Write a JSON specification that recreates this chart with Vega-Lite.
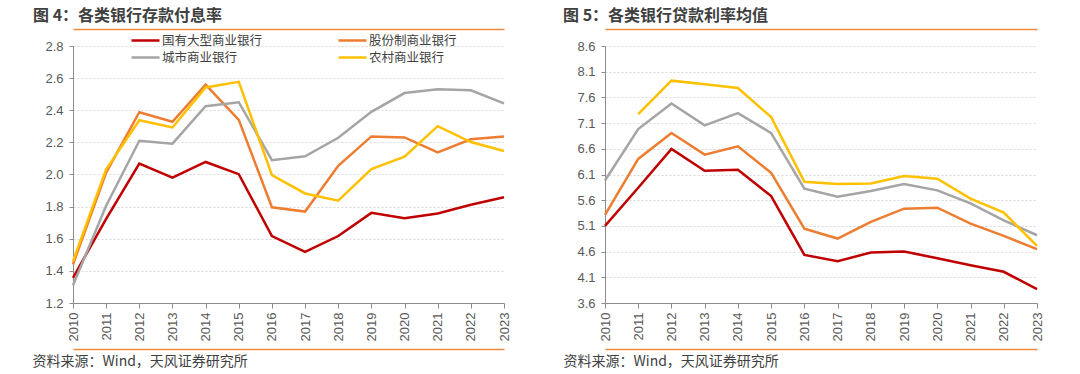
{
  "$schema": "https://vega.github.io/schema/vega-lite/v6.json",
  "padding": {"left": 32, "top": 8, "right": 5, "bottom": 0},
  "spacing": 52,
  "background": "white",
  "config": {
    "view": {"stroke": null},
    "font": "Noto Sans CJK SC",
    "axis": {"labelFont": "Liberation Sans", "labelFontSize": 13, "labelColor": "#595959", "domainColor": "#8c8c8c", "tickColor": "#8c8c8c", "titleFont": "Noto Sans CJK SC"},
    "legend": {
      "orient": "none", "legendY": -16, "columns": 2, "symbolType": "M-1.556,0H1.556", "symbolSize": 324, "symbolStrokeWidth": 2.5,
      "labelFont": "Noto Sans CJK SC", "labelFontSize": 12.5, "labelColor": "#404040", "columnPadding": 70, "rowPadding": 0, "labelOffset": 6, "title": null
    }
  },
  "datasets": {
    "deposit": [
      {"year": 2010, "bank": "国有大型商业银行", "rate": 1.357}, {"year": 2011, "bank": "国有大型商业银行", "rate": 1.724}, {"year": 2012, "bank": "国有大型商业银行", "rate": 2.068}, {"year": 2013, "bank": "国有大型商业银行", "rate": 1.981}, {"year": 2014, "bank": "国有大型商业银行", "rate": 2.078}, {"year": 2015, "bank": "国有大型商业银行", "rate": 2.002}, {"year": 2016, "bank": "国有大型商业银行", "rate": 1.617}, {"year": 2017, "bank": "国有大型商业银行", "rate": 1.518}, {"year": 2018, "bank": "国有大型商业银行", "rate": 1.617}, {"year": 2019, "bank": "国有大型商业银行", "rate": 1.761}, {"year": 2020, "bank": "国有大型商业银行", "rate": 1.728}, {"year": 2021, "bank": "国有大型商业银行", "rate": 1.757}, {"year": 2022, "bank": "国有大型商业银行", "rate": 1.812}, {"year": 2023, "bank": "国有大型商业银行", "rate": 1.858},
      {"year": 2010, "bank": "股份制商业银行", "rate": 1.44}, {"year": 2011, "bank": "股份制商业银行", "rate": 2.012}, {"year": 2012, "bank": "股份制商业银行", "rate": 2.388}, {"year": 2013, "bank": "股份制商业银行", "rate": 2.328}, {"year": 2014, "bank": "股份制商业银行", "rate": 2.559}, {"year": 2015, "bank": "股份制商业银行", "rate": 2.34}, {"year": 2016, "bank": "股份制商业银行", "rate": 1.796}, {"year": 2017, "bank": "股份制商业银行", "rate": 1.769}, {"year": 2018, "bank": "股份制商业银行", "rate": 2.054}, {"year": 2019, "bank": "股份制商业银行", "rate": 2.237}, {"year": 2020, "bank": "股份制商业银行", "rate": 2.231}, {"year": 2021, "bank": "股份制商业银行", "rate": 2.138}, {"year": 2022, "bank": "股份制商业银行", "rate": 2.219}, {"year": 2023, "bank": "股份制商业银行", "rate": 2.237},
      {"year": 2010, "bank": "城市商业银行", "rate": 1.31}, {"year": 2011, "bank": "城市商业银行", "rate": 1.806}, {"year": 2012, "bank": "城市商业银行", "rate": 2.21}, {"year": 2013, "bank": "城市商业银行", "rate": 2.192}, {"year": 2014, "bank": "城市商业银行", "rate": 2.425}, {"year": 2015, "bank": "城市商业银行", "rate": 2.45}, {"year": 2016, "bank": "城市商业银行", "rate": 2.089}, {"year": 2017, "bank": "城市商业银行", "rate": 2.113}, {"year": 2018, "bank": "城市商业银行", "rate": 2.229}, {"year": 2019, "bank": "城市商业银行", "rate": 2.39}, {"year": 2020, "bank": "城市商业银行", "rate": 2.507}, {"year": 2021, "bank": "城市商业银行", "rate": 2.53}, {"year": 2022, "bank": "城市商业银行", "rate": 2.524}, {"year": 2023, "bank": "城市商业银行", "rate": 2.443},
      {"year": 2010, "bank": "农村商业银行", "rate": 1.46}, {"year": 2011, "bank": "农村商业银行", "rate": 2.033}, {"year": 2012, "bank": "农村商业银行", "rate": 2.338}, {"year": 2013, "bank": "农村商业银行", "rate": 2.293}, {"year": 2014, "bank": "农村商业银行", "rate": 2.542}, {"year": 2015, "bank": "农村商业银行", "rate": 2.577}, {"year": 2016, "bank": "农村商业银行", "rate": 1.996}, {"year": 2017, "bank": "农村商业银行", "rate": 1.882}, {"year": 2018, "bank": "农村商业银行", "rate": 1.837}, {"year": 2019, "bank": "农村商业银行", "rate": 2.033}, {"year": 2020, "bank": "农村商业银行", "rate": 2.111}, {"year": 2021, "bank": "农村商业银行", "rate": 2.301}, {"year": 2022, "bank": "农村商业银行", "rate": 2.202}, {"year": 2023, "bank": "农村商业银行", "rate": 2.146}
    ],
    "loan": [
      {"year": 2010, "bank": "国有大型商业银行", "rate": 5.1}, {"year": 2011, "bank": "国有大型商业银行", "rate": 5.842}, {"year": 2012, "bank": "国有大型商业银行", "rate": 6.597}, {"year": 2013, "bank": "国有大型商业银行", "rate": 6.171}, {"year": 2014, "bank": "国有大型商业银行", "rate": 6.19}, {"year": 2015, "bank": "国有大型商业银行", "rate": 5.681}, {"year": 2016, "bank": "国有大型商业银行", "rate": 4.535}, {"year": 2017, "bank": "国有大型商业银行", "rate": 4.414}, {"year": 2018, "bank": "国有大型商业银行", "rate": 4.582}, {"year": 2019, "bank": "国有大型商业银行", "rate": 4.601}, {"year": 2020, "bank": "国有大型商业银行", "rate": 4.472}, {"year": 2021, "bank": "国有大型商业银行", "rate": 4.336}, {"year": 2022, "bank": "国有大型商业银行", "rate": 4.207}, {"year": 2023, "bank": "国有大型商业银行", "rate": 3.87},
      {"year": 2010, "bank": "股份制商业银行", "rate": 5.313}, {"year": 2011, "bank": "股份制商业银行", "rate": 6.403}, {"year": 2012, "bank": "股份制商业银行", "rate": 6.906}, {"year": 2013, "bank": "股份制商业银行", "rate": 6.487}, {"year": 2014, "bank": "股份制商业银行", "rate": 6.648}, {"year": 2015, "bank": "股份制商业银行", "rate": 6.132}, {"year": 2016, "bank": "股份制商业银行", "rate": 5.048}, {"year": 2017, "bank": "股份制商业银行", "rate": 4.854}, {"year": 2018, "bank": "股份制商业银行", "rate": 5.177}, {"year": 2019, "bank": "股份制商业银行", "rate": 5.436}, {"year": 2020, "bank": "股份制商业银行", "rate": 5.455}, {"year": 2021, "bank": "股份制商业银行", "rate": 5.145}, {"year": 2022, "bank": "股份制商业银行", "rate": 4.905}, {"year": 2023, "bank": "股份制商业银行", "rate": 4.647},
      {"year": 2010, "bank": "城市商业银行", "rate": 5.984}, {"year": 2011, "bank": "城市商业银行", "rate": 6.984}, {"year": 2012, "bank": "城市商业银行", "rate": 7.481}, {"year": 2013, "bank": "城市商业银行", "rate": 7.055}, {"year": 2014, "bank": "城市商业银行", "rate": 7.294}, {"year": 2015, "bank": "城市商业银行", "rate": 6.906}, {"year": 2016, "bank": "城市商业银行", "rate": 5.824}, {"year": 2017, "bank": "城市商业银行", "rate": 5.669}, {"year": 2018, "bank": "城市商业银行", "rate": 5.779}, {"year": 2019, "bank": "城市商业银行", "rate": 5.914}, {"year": 2020, "bank": "城市商业银行", "rate": 5.791}, {"year": 2021, "bank": "城市商业银行", "rate": 5.539}, {"year": 2022, "bank": "城市商业银行", "rate": 5.209}, {"year": 2023, "bank": "城市商业银行", "rate": 4.918},
      {"year": 2011, "bank": "农村商业银行", "rate": 7.274}, {"year": 2012, "bank": "农村商业银行", "rate": 7.926}, {"year": 2013, "bank": "农村商业银行", "rate": 7.855}, {"year": 2014, "bank": "农村商业银行", "rate": 7.784}, {"year": 2015, "bank": "农村商业银行", "rate": 7.216}, {"year": 2016, "bank": "农村商业银行", "rate": 5.958}, {"year": 2017, "bank": "农村商业银行", "rate": 5.914}, {"year": 2018, "bank": "农村商业银行", "rate": 5.927}, {"year": 2019, "bank": "农村商业银行", "rate": 6.07}, {"year": 2020, "bank": "农村商业银行", "rate": 6.018}, {"year": 2021, "bank": "农村商业银行", "rate": 5.63}, {"year": 2022, "bank": "农村商业银行", "rate": 5.358}, {"year": 2023, "bank": "农村商业银行", "rate": 4.711}
    ]
  },
  "hconcat": [
    {
      "title": {"text": "图 4：各类银行存款付息率", "anchor": "start", "frame": "group", "dx": -40, "fontSize": 16, "fontWeight": "bold", "font": "Noto Sans CJK SC", "color": "#404040", "offset": 5},
      "width": 431,
      "height": 257,
      "data": {"name": "deposit"},
      "resolve": {"axis": {"x": "independent"}},
      "layer": [
        {
          "mark": {"type": "line", "strokeWidth": 2.5},
          "encoding": {
            "x": {"field": "year", "type": "ordinal", "scale": {"type": "point", "padding": 0},
              "axis": {"orient": "bottom", "labelAngle": -90, "tickSize": 5, "labelPadding": 4, "grid": false, "title": null}},
            "y": {"field": "rate", "type": "quantitative", "scale": {"domain": [1.2, 2.8], "zero": false, "nice": false},
              "axis": {"values": [1.2, 1.4, 1.6, 1.8, 2.0, 2.2, 2.4, 2.6, 2.8], "format": ".1f", "tickSize": 4, "labelPadding": 6, "grid": true, "gridColor": "#d9d9d9", "gridDash": [2, 2], "title": null}},
            "color": {"field": "bank", "type": "nominal",
              "scale": {"domain": ["国有大型商业银行", "城市商业银行", "股份制商业银行", "农村商业银行"], "range": ["#C00000", "#A5A5A5", "#ED7D31", "#FFC000"]},
              "legend": {"legendX": 62}}
          }
        },
        {
          "mark": {"type": "point", "opacity": 0},
          "encoding": {"x": {"field": "year", "type": "ordinal",
            "axis": {"orient": "top", "offset": 17, "domainColor": "#EE8A3C", "domainWidth": 1.5, "ticks": false, "labels": false, "grid": false, "title": null}}}
        },
        {
          "mark": {"type": "point", "opacity": 0},
          "encoding": {"x": {"field": "year", "type": "ordinal",
            "axis": {"orient": "bottom", "offset": 46, "domainColor": "#EE8A3C", "domainWidth": 1.5, "ticks": false, "labels": false, "grid": false,
              "title": "资料来源：Wind，天风证券研究所", "titleFont": "Noto Sans CJK SC", "titleFontSize": 14, "titleFontWeight": "normal", "titleColor": "#404040", "titleAnchor": "start", "titleAlign": "left", "titleBaseline": "middle", "titleX": -41, "titleY": 12}}}
        }
      ]
    },
    {
      "title": {"text": "图 5：各类银行贷款利率均值", "anchor": "start", "frame": "group", "dx": -42, "fontSize": 16, "fontWeight": "bold", "font": "Noto Sans CJK SC", "color": "#404040", "offset": 5},
      "width": 432,
      "height": 257,
      "data": {"name": "loan"},
      "resolve": {"axis": {"x": "independent"}},
      "layer": [
        {
          "mark": {"type": "line", "strokeWidth": 2.5},
          "encoding": {
            "x": {"field": "year", "type": "ordinal", "scale": {"type": "point", "padding": 0},
              "axis": {"orient": "bottom", "labelAngle": -90, "tickSize": 5, "labelPadding": 4, "grid": false, "title": null}},
            "y": {"field": "rate", "type": "quantitative", "scale": {"domain": [3.6, 8.6], "zero": false, "nice": false},
              "axis": {"values": [3.6, 4.1, 4.6, 5.1, 5.6, 6.1, 6.6, 7.1, 7.6, 8.1, 8.6], "format": ".1f", "tickSize": 4, "labelPadding": 6, "grid": true, "gridColor": "#d9d9d9", "gridDash": [2, 2], "title": null}},
            "color": {"field": "bank", "type": "nominal",
              "scale": {"domain": ["国有大型商业银行", "城市商业银行", "股份制商业银行", "农村商业银行"], "range": ["#C00000", "#A5A5A5", "#ED7D31", "#FFC000"]},
              "legend": {"legendX": 54}}
          }
        },
        {
          "mark": {"type": "point", "opacity": 0},
          "encoding": {"x": {"field": "year", "type": "ordinal",
            "axis": {"orient": "top", "offset": 17, "domainColor": "#EE8A3C", "domainWidth": 1.5, "ticks": false, "labels": false, "grid": false, "title": null}}}
        },
        {
          "mark": {"type": "point", "opacity": 0},
          "encoding": {"x": {"field": "year", "type": "ordinal",
            "axis": {"orient": "bottom", "offset": 46, "domainColor": "#EE8A3C", "domainWidth": 1.5, "ticks": false, "labels": false, "grid": false,
              "title": "资料来源：Wind，天风证券研究所", "titleFont": "Noto Sans CJK SC", "titleFontSize": 14, "titleFontWeight": "normal", "titleColor": "#404040", "titleAnchor": "start", "titleAlign": "left", "titleBaseline": "middle", "titleX": -42, "titleY": 12}}}
        }
      ]
    }
  ]
}
